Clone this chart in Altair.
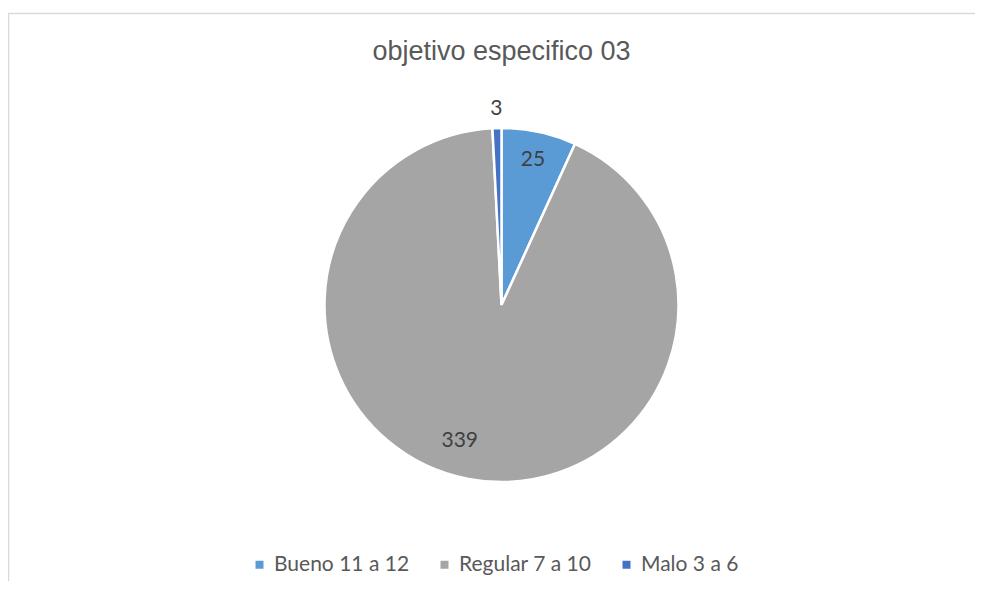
import altair as alt
import pandas as pd

categorias = ["Bueno 11 a 12", "Regular 7 a 10", "Malo 3 a 6"]
valores = [25, 339, 3]
colores = ["#5B9BD5", "#A5A5A5", "#4472C4"]
orden = [0, 1, 2]

df = pd.DataFrame({"categoria": categorias, "valor": valores, "orden": orden})
frame_df = pd.DataFrame({"k": [0]})

W, H = 967, 503
CX, CY = 493.5, 227

base = alt.Chart(df).encode(
    theta=alt.Theta("valor:Q", stack=True),
    order=alt.Order("orden:Q"),
    x=alt.value(CX),
    y=alt.value(CY),
)

pie = base.mark_arc(outerRadius=177, stroke="white", strokeWidth=2.5).encode(
    color=alt.Color(
        "categoria:N",
        scale=alt.Scale(domain=categorias, range=colores),
        legend=alt.Legend(
            orient="none", legendX=241, legendY=476, direction="horizontal",
            title=None, symbolType="square", symbolSize=64, symbolStrokeWidth=0,
            labelFont="Lato", labelFontSize=21, labelColor="#595959",
            columnPadding=24, labelOffset=4,
        ),
    )
)

def label(cat, radius, dx=0, dy=0):
    return base.mark_text(
        radius=radius, font="Lato", fontSize=21, color="#404040", dx=dx, dy=dy,
        align="center", baseline="middle",
    ).encode(
        detail="categoria:N",
        text=alt.condition(f"datum.categoria == '{cat}'", "valor:Q", alt.value("")),
    )

lab1 = label(categorias[0], 148)
lab2 = label(categorias[1], 143, dx=-15, dy=-4)
lab3 = label(categorias[2], 196)

top_line = alt.Chart(frame_df).mark_rule(color="#D9D9D9", strokeWidth=1.5).encode(
    x=alt.value(0), x2=alt.value(W), y=alt.value(-64.5)
)
left_line = alt.Chart(frame_df).mark_rule(color="#D9D9D9", strokeWidth=1.5).encode(
    x=alt.value(0.5), y=alt.value(-64.5), y2=alt.value(H)
)

chart = alt.layer(top_line, left_line, pie, lab1, lab2, lab3).properties(
    width=W, height=H,
    padding={"left": 0, "top": 70, "right": 0, "bottom": 0},
    autosize=alt.AutoSizeParams(type="none"),
    title=alt.TitleParams(
        "objetivo especifico 03", font="Liberation Sans", fontSize=27,
        fontWeight="normal", color="#595959", anchor="middle", dx=10, dy=57,
    ),
).configure_view(stroke=None)

chart.save("out.html", embed_options={"renderer": "svg", "actions": False})
